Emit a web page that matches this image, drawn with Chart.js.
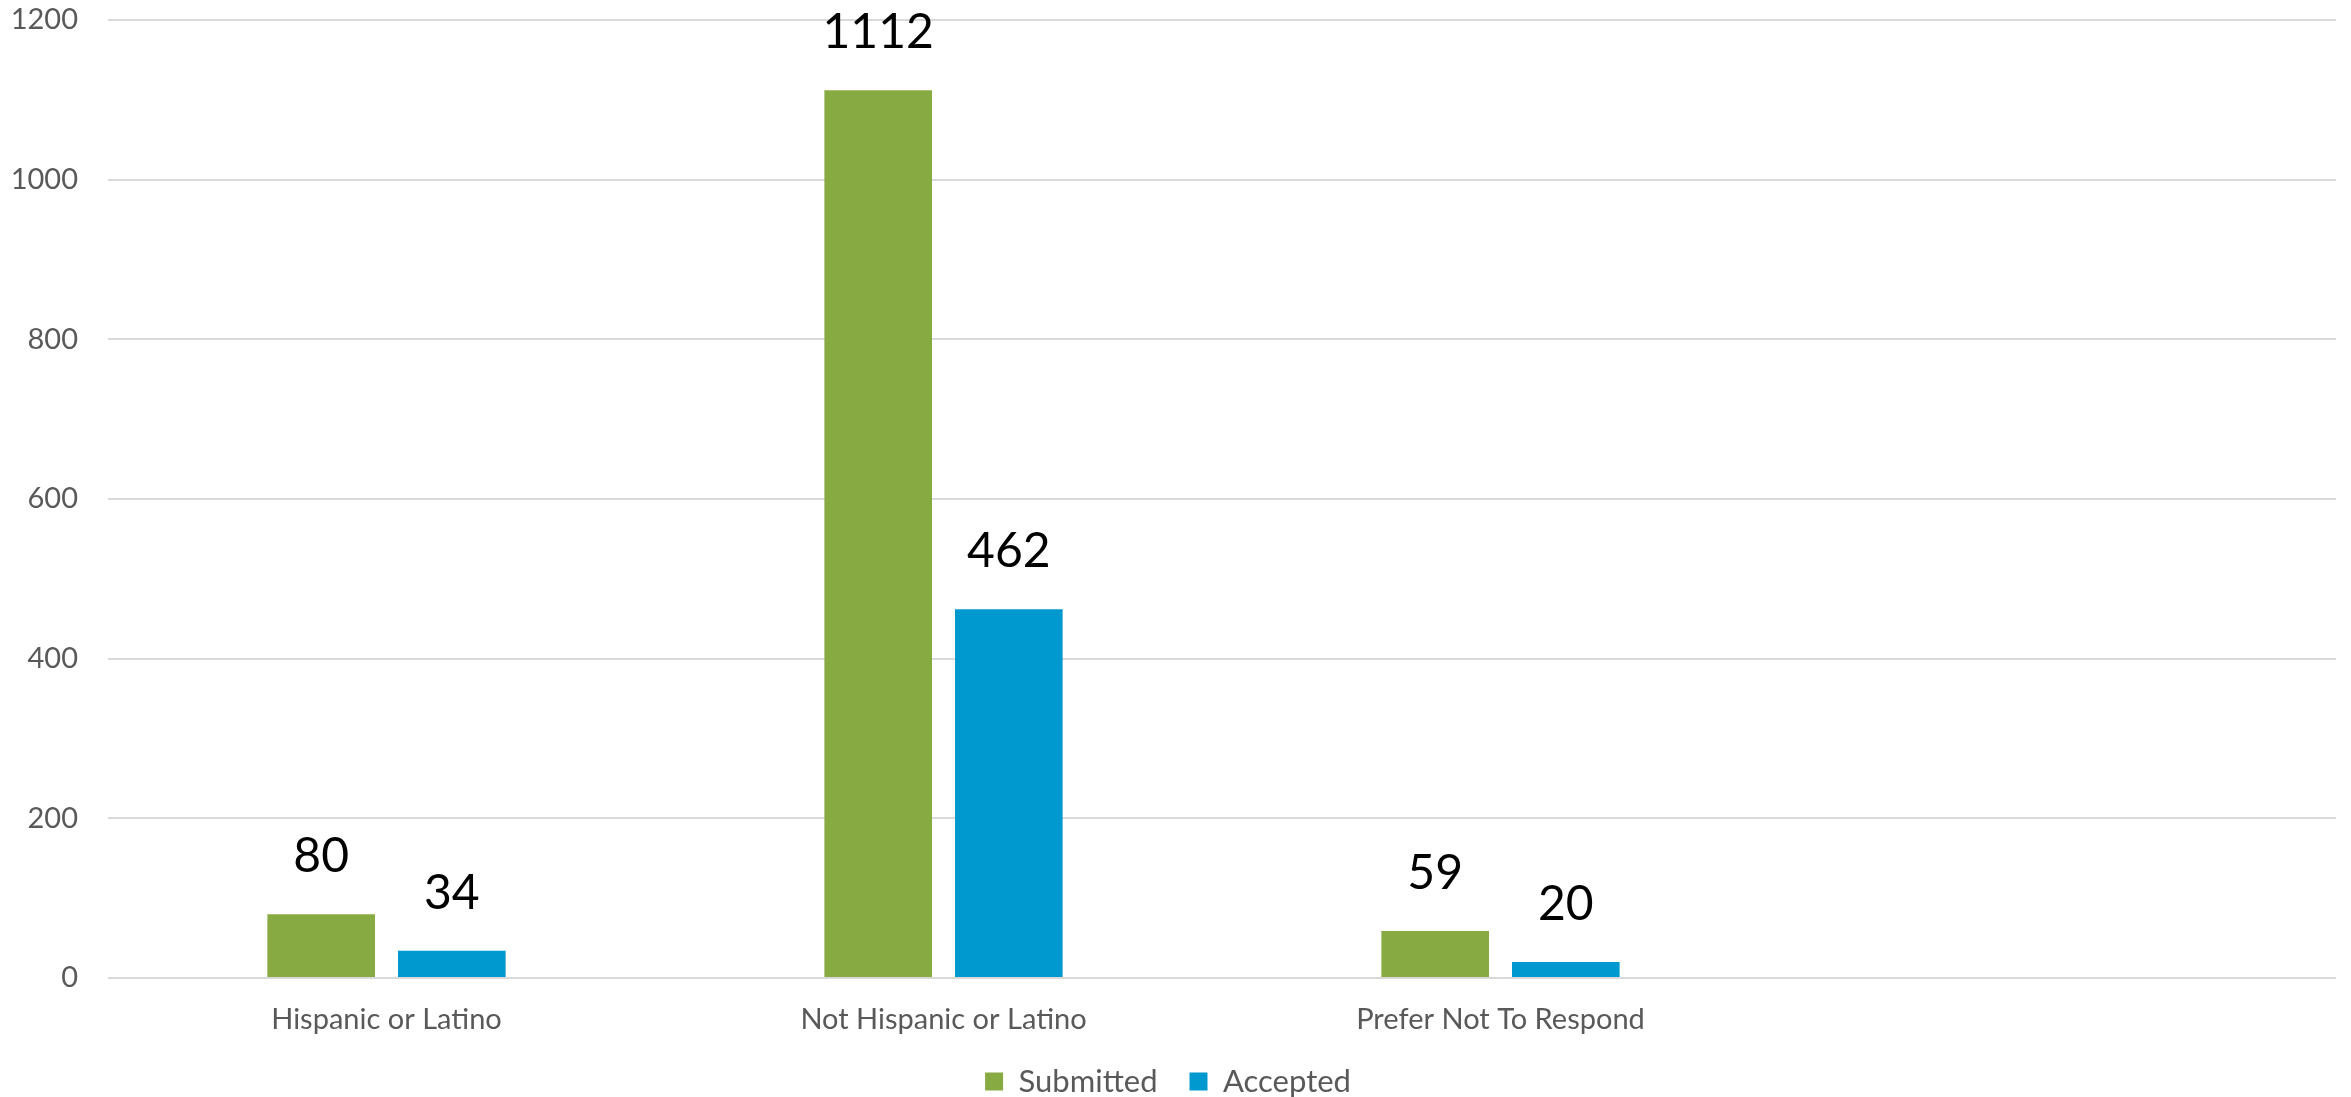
<!DOCTYPE html>
<html>
<head>
<meta charset="utf-8">
<script src="https://cdn.jsdelivr.net/npm/chart.js@4.4.0/dist/chart.umd.min.js"></script>
<style>
  html, body { margin: 0; padding: 0; background: #fff; }
  #wrap { width: 2351px; height: 1097px; }
</style>
</head>
<body>
<div id="wrap"><canvas id="ch1" width="2351" height="1097"></canvas></div>
<script>
// chart data
var categorias = ["Hispanic or Latino", "Not Hispanic or Latino", "Prefer Not To Respond", ""];
var submitted = [80, 1112, 59, null];
var accepted = [34, 462, 20, null];
var yTicks = [0, 200, 400, 600, 800, 1000, 1200];

var fonte = "Lato, 'Open Sans', sans-serif";

// draws the value above each bar, like excel data labels
var rotulos = {
    id: "rotulos",
    afterDatasetsDraw: function(chart){
        var ctx = chart.ctx;
        ctx.save();
        ctx.font = "48px " + fonte;
        ctx.fillStyle = "#000";
        ctx.textAlign = "center";
        ctx.textBaseline = "alphabetic";
        chart.data.datasets.forEach(function(ds, i){
            var meta = chart.getDatasetMeta(i);
            meta.data.forEach(function(bar, j){
                if(ds.data[j] == null) return;
                ctx.fillText(String(ds.data[j]), bar.x, bar.y - 42);
            });
        });
        ctx.restore();
    }
};

const ctx = document.getElementById("ch1");

new Chart(ctx, {
    type: "bar",
    data: {
        labels: categorias,
        datasets: [{
            label: "Submitted",
            data: submitted,
            backgroundColor: "#88AA42"
        }, {
            label: "Accepted",
            data: accepted,
            backgroundColor: "#0099CF"
        }]
    },
    options: {
        responsive: false,
        animation: false,
        layout: { padding: { top: 0, right: 15, left: 0, bottom: -10 } },
        datasets: {
            bar: { categoryPercentage: 0.469, barPercentage: 0.824 }
        },
        scales: {
            x: {
                grid: { display: false, drawTicks: false },
                border: { display: false },
                ticks: { color: "#595959", font: { family: fonte, size: 29 }, padding: 24 },
                afterFit: function(scale){ scale.height = 56; }
            },
            y: {
                min: 0,
                max: 1200,
                afterBuildTicks: function(scale){
                    scale.ticks = yTicks.map(function(v){ return { value: v }; });
                },
                grid: { color: "#D9D9D9", lineWidth: 2, drawTicks: false },
                border: { display: false },
                ticks: {
                    color: "#595959",
                    font: { family: fonte, size: 29 },
                    padding: 30,
                    callback: function(v){ return String(v); }
                },
                afterFit: function(scale){
                    scale.width = 108;
                    scale.paddingTop = 20;
                    scale.paddingBottom = 0;
                }
            }
        },
        plugins: {
            legend: {
                position: "bottom",
                labels: {
                    color: "#595959",
                    font: { family: fonte, size: 31 },
                    boxWidth: 18,
                    boxHeight: 18,
                    padding: 32
                }
            },
            tooltip: { enabled: false }
        }
    },
    plugins: [rotulos]
});
</script>
</body>
</html>
